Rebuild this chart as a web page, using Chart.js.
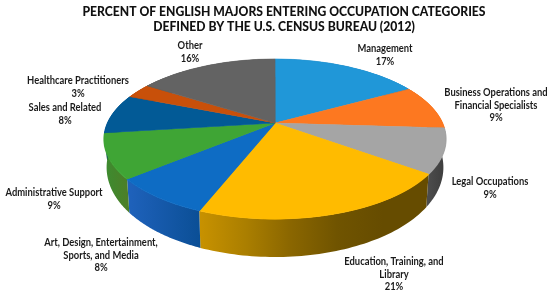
<!DOCTYPE html>
<html>
<head>
<meta charset="utf-8">
<style>
  html, body { margin: 0; padding: 0; background: #fff; }
  canvas { display: block; }
</style>
<script src="https://cdn.jsdelivr.net/npm/chart.js@4"></script>
</head>
<body>
<canvas id="chart" width="550" height="296"></canvas>
<script>
const categories = ['Management', 'Business Operations and Financial Specialists', 'Legal Occupations',
  'Education, Training, and Library', 'Art, Design, Entertainment, Sports, and Media',
  'Administrative Support', 'Sales and Related', 'Healthcare Practitioners', 'Other'];
const percents = [17, 9, 9, 21, 8, 9, 8, 3, 16];
const titleLines = ['PERCENT OF ENGLISH MAJORS ENTERING OCCUPATION CATEGORIES',
  'DEFINED BY THE U.S. CENSUS BUREAU (2012)'];

const sliceColors = ['#2097d8', '#fd7820', '#a5a5a5', '#ffbb00', '#0e6cc4', '#3fa535', '#025a96', '#c8500a', '#636363'];
// side wall shading, left to right
const wallColors = [
  ['#1a6a9a', '#1a6a9a'], ['#a8500f', '#a8500f'], ['#4c4c4c', '#3c3c3c'],
  ['#c89200', '#ab7f00', '#8a6600', '#705400', '#664c00', '#664c00'], ['#1f62bc', '#0b4f96'],
  ['#3c8c30', '#4c7f28'], ['#024070', '#024070'], ['#8a3806', '#8a3806'], ['#444444', '#444444']
];

// label text lines and where they sit on the page
const labelSpots = [
  { x: 385, y: 49, lines: ['Management', '17%'] },
  { x: 496, y: 93, lines: ['Business Operations and', 'Financial Specialists', '9%'] },
  { x: 490, y: 182, lines: ['Legal Occupations', '9%'] },
  { x: 394, y: 262, lines: ['Education, Training, and', 'Library', '21%'] },
  { x: 101, y: 243, lines: ['Art, Design, Entertainment,', 'Sports, and Media', '8%'] },
  { x: 54, y: 193, lines: ['Administrative Support', '9%'] },
  { x: 65, y: 108, lines: ['Sales and Related', '8%'] },
  { x: 78, y: 81, lines: ['Healthcare Practitioners', '3%'] },
  { x: 190, y: 46, lines: ['Other', '16%'] }
];

// perspective of the disc on the page
const view = { cx: 275, cy: 123, a: 167.5, b: 76.8, p: 0.2 };

function project(u, v) {
  const w = 1 - view.p * v;
  return { x: view.cx + view.a * u / w, y: view.cy + view.b * v / w };
}

function wallDepth(v) {
  return 26 + 12 * v;
}

function drawWalls(ctx, arcs) {
  arcs.forEach((arc, i) => {
    const steps = 60;
    const top = [];
    const bottom = [];
    for (let s = 0; s <= steps; s++) {
      const ang = arc.startAngle + (arc.endAngle - arc.startAngle) * s / steps;
      const u = Math.cos(ang), v = Math.sin(ang);
      const pt = project(u, v);
      top.push(pt);
      bottom.push({ x: view.cx + (pt.x - view.cx) * 0.985, y: pt.y + wallDepth(v) });
    }
    const xs = top.map(pt => pt.x);
    const grad = ctx.createLinearGradient(Math.min(...xs), 0, Math.max(...xs), 0);
    wallColors[i].forEach((c, k) => grad.addColorStop(k / (wallColors[i].length - 1), c));
    ctx.beginPath();
    top.forEach((pt, k) => k ? ctx.lineTo(pt.x, pt.y) : ctx.moveTo(pt.x, pt.y));
    bottom.reverse().forEach(pt => ctx.lineTo(pt.x, pt.y));
    ctx.closePath();
    ctx.fillStyle = grad;
    ctx.fill();
  });
}

// condensed text, the installed fonts are all wider than the original
function squeezedText(ctx, text, x, y, squeeze) {
  ctx.save();
  ctx.translate(x, y);
  ctx.scale(squeeze, 1);
  ctx.fillText(text, 0, 0);
  ctx.restore();
}

// the library draws the slices once per pixel row, each row with its own scale
const tiltedPie = {
  id: 'tiltedPie',
  beforeDatasetsDraw(chart) {
    const ctx = chart.ctx;
    const arcs = chart.getDatasetMeta(0).data;
    const R = arcs[0].outerRadius, x0 = arcs[0].x, y0 = arcs[0].y;
    drawWalls(ctx, arcs);
    const top = Math.floor(project(0, -1).y) - 1;
    const bottom = Math.ceil(project(0, 1).y) + 1;
    for (let row = top; row < bottom; row++) {
      const t = (row + 0.5 - view.cy) / view.b;
      const v = t / (1 + view.p * t);
      const w = 1 - view.p * v;
      const sx = view.a / w / R;
      const sy = view.b / (w * w) / R;
      ctx.save();
      ctx.beginPath();
      ctx.rect(0, row, chart.width, 1);
      ctx.clip();
      ctx.setTransform(sx, 0, 0, sy, view.cx - sx * x0, row + 0.5 - sy * (y0 + v * R));
      arcs.forEach(arc => arc.draw(ctx));
      ctx.restore();
    }
    return false;
  },
  afterDraw(chart) {
    const ctx = chart.ctx;
    ctx.save();
    ctx.textAlign = 'center';
    ctx.textBaseline = 'middle';
    ctx.fillStyle = '#111';
    ctx.font = '900 13.5px Lato';
    titleLines.forEach((line, k) => squeezedText(ctx, line, 284, 12 + k * 14.5, 0.9));
    ctx.fillStyle = '#1a1a1a';
    ctx.font = '700 10.8px Lato';
    labelSpots.forEach(spot => {
      spot.lines.forEach((line, k) => squeezedText(ctx, line, spot.x, spot.y + k * 12.3, 0.87));
    });
    ctx.restore();
  }
};

new Chart(document.getElementById('chart').getContext('2d'), {
  type: 'pie',
  data: {
    labels: categories,
    datasets: [{
      data: percents,
      backgroundColor: sliceColors,
      borderColor: sliceColors,
      borderWidth: 1
    }]
  },
  options: {
    responsive: false,
    animation: false,
    plugins: {
      legend: { display: false },
      tooltip: { enabled: false },
      title: { display: false }
    }
  },
  plugins: [tiltedPie]
});
</script>
</body>
</html>
